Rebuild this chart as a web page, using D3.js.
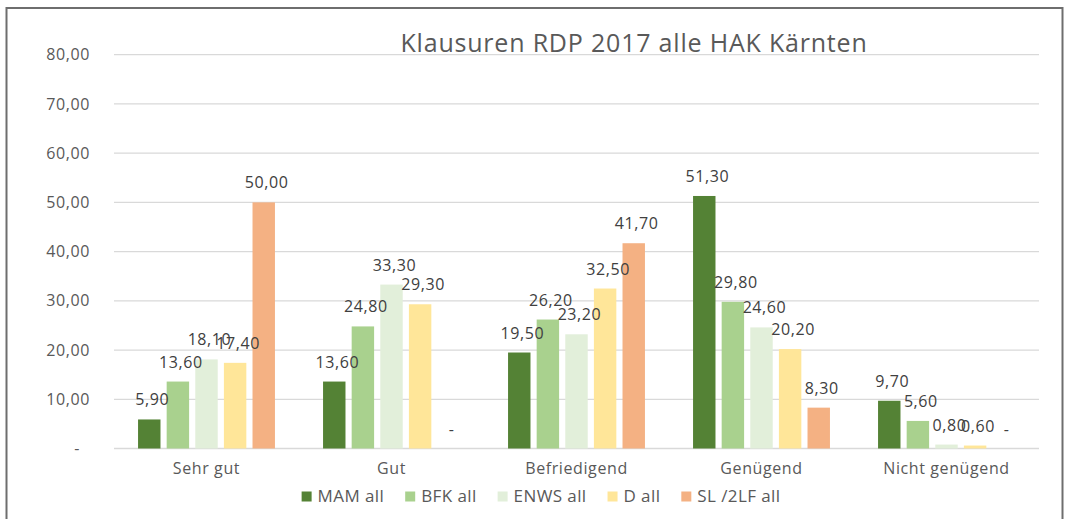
<html>
	<head>
		<meta charset="utf-8">
		<title>Klausuren RDP 2017 alle HAK Kärnten</title>
		<script src="https://d3js.org/d3.v7.min.js"></script>
		<style>
			body { margin: 0; background: #fff; }
			svg { font-family: 'Open Sans', sans-serif; }
			.ticks text { fill: #595959; font-size: 16px; letter-spacing: 0.6px; }
			.grid line { stroke: #d9d9d9; stroke-width: 1.3; }
			.values text { fill: #404040; font-size: 16px; letter-spacing: 0.6px; text-anchor: middle; }
			.cats text { fill: #595959; font-size: 16px; letter-spacing: 0.6px; text-anchor: middle; }
			.legend text { fill: #595959; font-size: 17px; letter-spacing: 0.4px; }
			.title { fill: #595959; font-size: 25px; letter-spacing: 0.8px; text-anchor: middle; }
		</style>
	</head>

	<body>
		<svg width="1065" height="519"></svg>
	</body>

	<script>
		const categories = ['Sehr gut', 'Gut', 'Befriedigend', 'Genügend', 'Nicht genügend'];
		const seriesNames = ['MAM all', 'BFK all', 'ENWS all', 'D all', 'SL /2LF all'];
		const seriesColors = ['#548235', '#a9d18e', '#e2efda', '#ffe699', '#f4b183'];

		const mam  = [5.9, 13.6, 19.5, 51.3, 9.7];
		const bfk  = [13.6, 24.8, 26.2, 29.8, 5.6];
		const enws = [18.1, 33.3, 23.2, 24.6, 0.8];
		const dAll = [17.4, 29.3, 32.5, 20.2, 0.6];
		const sl   = [50.0, 0, 41.7, 8.3, 0];

		const yTicks = [0, 10, 20, 30, 40, 50, 60, 70, 80];

		const series = [mam, bfk, enws, dAll, sl];

		const svg = d3.select('svg');
		const fmt = v => v === 0 ? '-' : v.toFixed(2).replace('.', ',');

		// chart frame
		svg.append('rect')
			.attr('x', 6.5).attr('y', 8)
			.attr('width', 1056).attr('height', 530)
			.attr('fill', 'none')
			.attr('stroke', '#6e6e6e')
			.attr('stroke-width', 2);

		const x0 = d3.scaleBand()
			.domain(categories)
			.range([114, 1039])
			.paddingInner(0.26)
			.paddingOuter(0.13);

		const x1 = d3.scaleBand()
			.domain(d3.range(seriesNames.length))
			.range([0, x0.bandwidth()])
			.paddingInner(0.216);

		const y = d3.scaleLinear()
			.domain([0, 80])
			.range([448.5, 54.7]);

		svg.append('g')
			.attr('class', 'grid')
			.selectAll('line')
			.data(yTicks)
			.join('line')
			.attr('x1', 114).attr('x2', 1039)
			.attr('y1', d => y(d)).attr('y2', d => y(d));

		svg.append('g')
			.attr('class', 'ticks')
			.selectAll('text')
			.data(yTicks)
			.join('text')
			.attr('x', d => d === 0 ? 80 : 90)
			.attr('y', d => y(d))
			.attr('dy', '0.35em')
			.attr('text-anchor', 'end')
			.text(fmt);

		svg.append('text')
			.attr('class', 'title')
			.attr('x', 634)
			.attr('y', 52)
			.text('Klausuren RDP 2017 alle HAK Kärnten');

		const cells = [];
		series.forEach((vals, s) => {
			vals.forEach((v, c) => cells.push({ s, cat: categories[c], v }));
		});

		svg.append('g')
			.selectAll('rect')
			.data(cells)
			.join('rect')
			.attr('x', d => x0(d.cat) + x1(d.s))
			.attr('y', d => y(d.v))
			.attr('width', x1.bandwidth())
			.attr('height', d => y(0) - y(d.v))
			.attr('fill', d => seriesColors[d.s]);

		svg.append('g')
			.attr('class', 'values')
			.selectAll('text')
			.data(cells)
			.join('text')
			.attr('x', d => x0(d.cat) + x1(d.s) + x1.bandwidth() / 2 + 3)
			.attr('y', d => y(d.v) - 14)
			.text(d => fmt(d.v));

		svg.append('g')
			.attr('class', 'cats')
			.selectAll('text')
			.data(categories)
			.join('text')
			.attr('x', d => x0(d) - x0.step() * x0.paddingOuter() + x0.step() / 2)
			.attr('y', 474)
			.text(d => d);

		// legend, centred under the chart
		const legend = svg.append('g').attr('class', 'legend');
		const items = legend.selectAll('g')
			.data(seriesNames)
			.join('g');
		items.append('rect')
			.attr('width', 10).attr('height', 10)
			.attr('y', 491.5)
			.attr('fill', (d, i) => seriesColors[i]);
		items.append('text')
			.attr('x', 16)
			.attr('y', 502)
			.text(d => d);

		let pos = 0;
		const offsets = [];
		items.each(function () {
			offsets.push(pos);
			pos += 16 + d3.select(this).select('text').node().getComputedTextLength() + 21;
		});
		const total = pos - 21;
		const start = 541 - total / 2;
		items.attr('transform', (d, i) => `translate(${start + offsets[i]},0)`);
	</script>

</html>
